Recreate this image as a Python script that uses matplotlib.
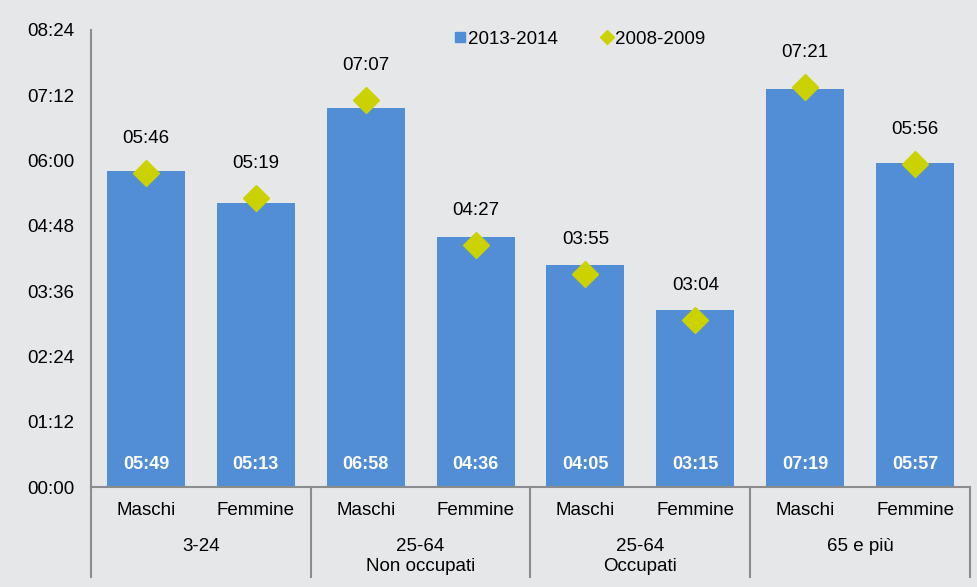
import matplotlib.pyplot as plt
from matplotlib.lines import Line2D
from matplotlib.ticker import FuncFormatter, MultipleLocator

plt.rcParams['font.family'] = ['Liberation Sans', 'DejaVu Sans']

sessi = ['Maschi', 'Femmine'] * 4
gruppi = ['3-24', '25-64\nNon occupati', '25-64\nOccupati', '65 e più']
# minutes
v2013 = [5*60+49, 5*60+13, 6*60+58, 4*60+36, 4*60+5, 3*60+15, 7*60+19, 5*60+57]
v2008 = [5*60+46, 5*60+19, 7*60+7, 4*60+27, 3*60+55, 3*60+4, 7*60+21, 5*60+56]

bg = '#E6E7E9'
blu = '#528ED5'
giallo = '#CCD200'
grigio = '#8C8C8C'
fs = 13.5

def hhmm(m, pos=None):
    m = int(round(m))
    return '%02d:%02d' % (m // 60, m % 60)

fig = plt.figure(figsize=(9.78, 5.87), dpi=100, facecolor=bg)
ax = fig.add_axes([91/978, 100/587, 879/978, 457/587], facecolor=bg)

x = list(range(len(v2013)))
ax.bar(x, v2013, width=0.71, color=blu, zorder=2)
ax.plot(x, v2008, 'D', color=giallo, markersize=13.5, linestyle='none', zorder=3)

for xi, b, d in zip(x, v2013, v2008):
    ax.annotate(hhmm(b), (xi, 0), xytext=(0, 16), textcoords='offset points',
                ha='center', va='center', color='white', fontsize=13, fontweight='bold')
    ax.annotate(hhmm(d), (xi, d), xytext=(0, 25), textcoords='offset points',
                ha='center', va='center', color='black', fontsize=fs)

ax.set_xlim(-0.5, 7.5)
ax.set_ylim(0, 504)
ax.yaxis.set_major_locator(MultipleLocator(72))
ax.yaxis.set_major_formatter(FuncFormatter(hhmm))
ax.tick_params(axis='y', length=0, pad=12, labelsize=fs)
ax.set_xticks([])

for s in ['top', 'right']:
    ax.spines[s].set_visible(False)
for s in ['left', 'bottom']:
    ax.spines[s].set_color(grigio)
    ax.spines[s].set_linewidth(1.5)

tr = ax.get_xaxis_transform()
for xs in [-0.5, 1.5, 3.5, 5.5, 7.5]:
    ax.plot([xs, xs], [0, -0.197], transform=tr, color=grigio, lw=1.5, clip_on=False)
for xi, s in zip(x, sessi):
    ax.text(xi, -0.052, s, transform=tr, ha='center', va='center', fontsize=fs)
for i, g in enumerate(gruppi):
    ax.text(2*i + 0.5, -0.112, g, transform=tr, ha='center', va='top', fontsize=fs,
            linespacing=1.2)

handles = [Line2D([], [], marker='s', color=blu, linestyle='none', markersize=7.5),
           Line2D([], [], marker='D', color=giallo, linestyle='none', markersize=7.5)]
ax.legend(handles, ['2013-2014', '2008-2009'], loc='upper center', bbox_to_anchor=(0.555, 1.035),
          ncol=2, frameon=False, fontsize=fs, handletextpad=0.05, columnspacing=2.2,
          handlelength=0.8)

fig.savefig('out.png', dpi=100, facecolor=bg)
